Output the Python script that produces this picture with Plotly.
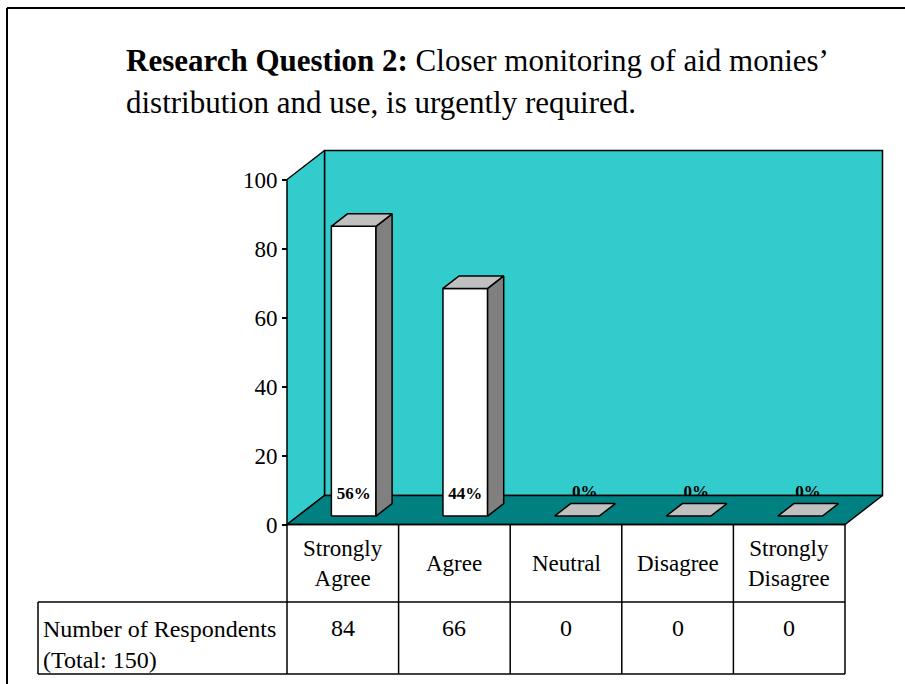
import plotly.graph_objects as go

# ---------------- data ----------------
categories = ["Strongly<br>Agree", "Agree", "Neutral", "Disagree", "Strongly<br>Disagree"]
respondents = [84, 66, 0, 0, 0]
total_respondents = 150
y_ticks = [0, 20, 40, 60, 80, 100]
row_header = "Number of Respondents<br>(Total: 150)"
title_bold = "Research Question 2:"
title_rest = "Closer monitoring of aid monies’"
title_line2 = "distribution and use, is urgently required."

# ---------------- geometry (pixel -> data helpers) ----------------
W, H = 905, 684
X0_PX, CAT_PX = 287.0, 111.6     # x of category 0 left edge, width of one category
Y0_PX, UNIT_PX = 524.5, 3.45      # y pixel of value 0, pixels per unit


def X(px):
    return (px - X0_PX) / CAT_PX


def Y(py):
    return (Y0_PX - py) / UNIT_PX


DX = 37.5 / CAT_PX                 # depth offset (data units)
DY = 29.0 / UNIT_PX
F1, F2 = 0.29, 0.72                # bar front / back depth fractions
BAR_W = 0.40
YMAX = 100
n = len(categories)

WALL = "#33CCCC"
FLOOR = "#008080"
SIDE = "#808080"
TOP = "#C0C0C0"
SERIF = "Liberation Serif, Times New Roman, serif"
LW = 1.5

fig = go.Figure()


def poly(xs, ys, color, name):
    fig.add_trace(go.Scatter(x=xs, y=ys, mode="lines", fill="toself", fillcolor=color,
                             line=dict(color="black", width=LW), hoverinfo="skip",
                             showlegend=False, name=name))


# back wall
poly([DX, n + DX, n + DX, DX, DX], [DY, DY, YMAX + DY, YMAX + DY, DY], WALL, "back wall")
# side wall
poly([0, DX, DX, 0, 0], [0, DY, YMAX + DY, YMAX, 0], WALL, "side wall")

pct = [round(v / total_respondents * 100) for v in respondents]

# labels of zero bars (partly hidden behind the floor)
zx = [i + 0.5 + 0.5 * DX for i, v in enumerate(respondents) if v == 0]
zt = [f"<b>{p}%</b>" for p, v in zip(pct, respondents) if v == 0]
fig.add_trace(go.Scatter(x=zx, y=[Y(493)] * len(zx), mode="text", text=zt,
                         textfont=dict(family=SERIF, size=17, color="black"),
                         hoverinfo="skip", showlegend=False))

# floor
poly([0, n, n + DX, DX, 0], [0, 0, DY, DY, 0], FLOOR, "floor")

# bars
fx, fy, sx, sy, tx, ty = [], [], [], [], [], []
for i, v in enumerate(respondents):
    c = i + 0.5
    l1, r1 = c - BAR_W / 2 + F1 * DX, c + BAR_W / 2 + F1 * DX
    l2, r2 = c - BAR_W / 2 + F2 * DX, c + BAR_W / 2 + F2 * DX
    b1, b2 = F1 * DY, F2 * DY
    if v > 0:
        fx += [l1, r1, r1, l1, l1, None]
        fy += [b1, b1, v + b1, v + b1, b1, None]
        sx += [r1, r2, r2, r1, r1, None]
        sy += [b1, b2, v + b2, v + b1, b1, None]
    tx += [l1, r1, r2, l2, l1, None]
    ty += [v + b1, v + b1, v + b2, v + b2, v + b1, None]

poly(fx, fy, "white", "bar front")
poly(sx, sy, SIDE, "bar side")
poly(tx, ty, TOP, "bar top")

# labels of non-zero bars
nx = [i + 0.5 + F1 * DX for i, v in enumerate(respondents) if v > 0]
nt = [f"<b>{p}%</b>" for p, v in zip(pct, respondents) if v > 0]
fig.add_trace(go.Scatter(x=nx, y=[Y(495)] * len(nx), mode="text", text=nt,
                         textfont=dict(family=SERIF, size=17, color="black"),
                         hoverinfo="skip", showlegend=False))

# ---------------- table ----------------
shapes = []
line = dict(color="black", width=LW)
row1_bot, row2_bot = Y(602), Y(674)
left_px = X(38)
for yy, x_start in [(0, 0), (row1_bot, left_px), (row2_bot, left_px)]:
    shapes.append(dict(type="line", xref="x", yref="y", x0=x_start, x1=n, y0=yy, y1=yy, line=line))
for i in range(n + 1):
    shapes.append(dict(type="line", xref="x", yref="y", x0=i, x1=i, y0=0, y1=row2_bot, line=line))
shapes.append(dict(type="line", xref="x", yref="y", x0=left_px, x1=left_px, y0=row1_bot, y1=row2_bot, line=line))

# outer frame (left and top)
frame = dict(color="black", width=2)
shapes.append(dict(type="line", xref="paper", yref="paper", x0=7 / W, x1=7 / W, y0=0, y1=1 - 8 / H, line=frame))
shapes.append(dict(type="line", xref="paper", yref="paper", x0=7 / W, x1=1, y0=1 - 8 / H, y1=1 - 8 / H, line=frame))

annotations = []
for i, (cat, v) in enumerate(zip(categories, respondents)):
    annotations.append(dict(x=i + 0.5, y=Y(563), xref="x", yref="y", text=cat, showarrow=False,
                            xanchor="center", yanchor="middle",
                            font=dict(family=SERIF, size=23, color="black")))
    annotations.append(dict(x=i + 0.5, y=Y(628), xref="x", yref="y", text=str(v), showarrow=False,
                            xanchor="center", yanchor="middle",
                            font=dict(family=SERIF, size=24, color="black")))
annotations.append(dict(x=X(41), y=Y(644), xref="x", yref="y", text=row_header, showarrow=False,
                        xanchor="left", yanchor="middle", align="left",
                        font=dict(family=SERIF, size=24, color="black")))

# title
annotations.append(dict(x=124 / W, y=1 - 60 / H, xref="paper", yref="paper",
                        text=f"<b>{title_bold}</b> {title_rest}", showarrow=False,
                        xanchor="left", yanchor="middle", align="left",
                        font=dict(family=SERIF, size=31, color="black")))
annotations.append(dict(x=124 / W, y=1 - 102 / H, xref="paper", yref="paper",
                        text=title_line2, showarrow=False,
                        xanchor="left", yanchor="middle", align="left",
                        font=dict(family=SERIF, size=31, color="black")))

fig.update_layout(
    width=W, height=H, margin=dict(l=0, r=0, t=0, b=0),
    paper_bgcolor="white", plot_bgcolor="white",
    showlegend=False, shapes=shapes, annotations=annotations,
    xaxis=dict(range=[X(0), X(W)], visible=False, fixedrange=True),
    yaxis=dict(range=[Y(H), Y(0)], anchor="free", position=X0_PX / W,
               tickvals=y_ticks, ticktext=[str(t) for t in y_ticks],
               ticks="outside", ticklen=5, tickwidth=LW, tickcolor="black",
               showline=False, showgrid=False, zeroline=False, fixedrange=True,
               tickfont=dict(family=SERIF, size=23, color="black")),
)

fig.write_html("out.html")
